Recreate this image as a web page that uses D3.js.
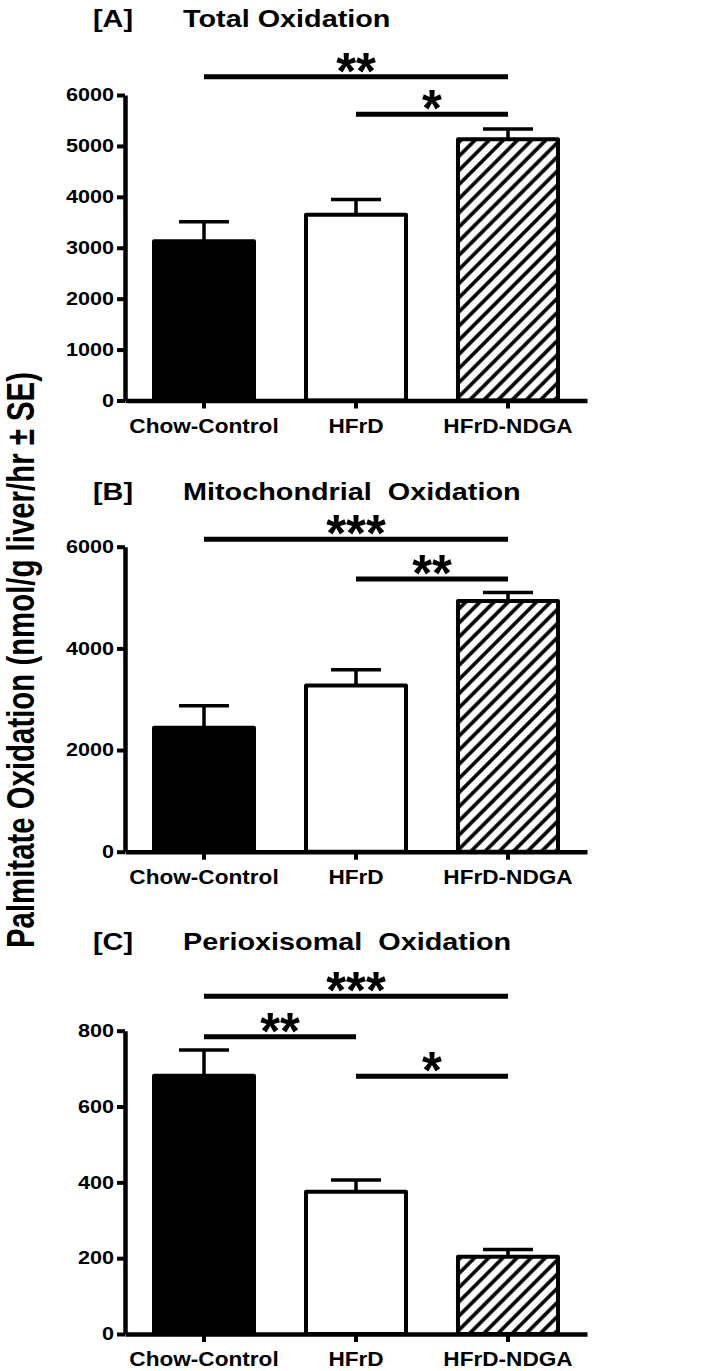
<!DOCTYPE html>
<html>
<head>
<meta charset="utf-8">
<script src="https://cdn.jsdelivr.net/npm/d3@7/dist/d3.min.js"></script>
<style>
  html, body { margin: 0; padding: 0; background: #fff; }
  svg { display: block; }
  text { font-family: "Liberation Sans", Arial, Helvetica, sans-serif; font-weight: bold; fill: #000; white-space: pre; }
</style>
</head>
<body>
<svg id="chart" width="702" height="1371"></svg>
<script>
// ---------------- DATA ----------------
const categories = ["Chow-Control", "HFrD", "HFrD-NDGA"];
const panelLetters = ["[A]", "[B]", "[C]"];
const panelTitles = ["Total Oxidation", "Mitochondrial  Oxidation", "Perioxisomal  Oxidation"];
const yAxisTitle = "Palmitate Oxidation (nmol/g liver/hr \u00B1 SE)";

const totalMean = [3130, 3650, 5130];
const totalSE   = [380, 300, 200];
const mitoMean  = [2440, 3270, 4930];
const mitoSE    = [430, 310, 170];
const peroxMean = [681, 375, 204];
const peroxSE   = [68, 31, 19];

const totalTicks = [0, 1000, 2000, 3000, 4000, 5000, 6000];
const mitoTicks  = [0, 2000, 4000, 6000];
const peroxTicks = [0, 200, 400, 600, 800];

// significance brackets: [fromIndex, toIndex, level(value units), label]
const totalSig = [[0, 2, 6360, "**"], [1, 2, 5620, "*"]];
const mitoSig  = [[0, 2, 6146, "***"], [1, 2, 5364, "**"]];
const peroxSig = [[0, 2, 891, "***"], [0, 1, 784, "**"], [1, 2, 680, "*"]];

// ---------------- LAYOUT ----------------
const svg = d3.select("#chart");
const fills = ["#000", "#fff", "url(#hatch)"];

const defs = svg.append("defs");
const pat = defs.append("pattern")
  .attr("id", "hatch").attr("patternUnits", "userSpaceOnUse")
  .attr("width", 10).attr("height", 10)
  .attr("patternTransform", "rotate(45)");
pat.append("rect").attr("width", 10).attr("height", 10).attr("fill", "#fff");
pat.append("line").attr("x1", 5).attr("y1", -2).attr("x2", 5).attr("y2", 12)
  .attr("stroke", "#000").attr("stroke-width", 3.6);

function stretch(sel, k) {
  sel.each(function () {
    const w = this.getComputedTextLength();
    d3.select(this).attr("textLength", w * k).attr("lengthAdjust", "spacingAndGlyphs");
  });
}

const x = d3.scaleBand().domain(categories)
  .range([125, 587]).paddingInner(0.342).paddingOuter(0.1908);

const panels = [
  { mean: totalMean, se: totalSE, ticks: totalTicks, sig: totalSig, max: 6000, y0: 400.5, y1: 95, titleY: 27 },
  { mean: mitoMean, se: mitoSE, ticks: mitoTicks, sig: mitoSig, max: 6000, y0: 851.7, y1: 546.7, titleY: 500 },
  { mean: peroxMean, se: peroxSE, ticks: peroxTicks, sig: peroxSig, max: 800, y0: 1334, y1: 1030.7, titleY: 950 }
];

panels.forEach((p, pi) => {
  const g = svg.append("g");
  const y = d3.scaleLinear().domain([0, p.max]).range([p.y0, p.y1]);

  // titles
  g.append("text").attr("x", 93).attr("y", p.titleY).attr("font-size", 24)
    .text(panelLetters[pi]).call(stretch, 1.2);
  g.append("text").attr("x", 183).attr("y", p.titleY).attr("font-size", 24)
    .text(panelTitles[pi]).call(stretch, 1.2);

  // error bars
  const cx = d => x(d) + x.bandwidth() / 2;
  g.selectAll(".err").data(categories).join("g").each(function (d, i) {
    const e = d3.select(this);
    const top = y(p.mean[i] + p.se[i]);
    e.append("line").attr("x1", cx(d)).attr("x2", cx(d))
      .attr("y1", y(p.mean[i])).attr("y2", top)
      .attr("stroke", "#000").attr("stroke-width", 3.5);
    e.append("line").attr("x1", cx(d) - 25).attr("x2", cx(d) + 25)
      .attr("y1", top).attr("y2", top)
      .attr("stroke", "#000").attr("stroke-width", 3.5);
  });

  // bars
  g.selectAll(".bar").data(categories).join("rect")
    .attr("x", d => x(d))
    .attr("width", x.bandwidth())
    .attr("y", (d, i) => y(p.mean[i]))
    .attr("height", (d, i) => y(0) - y(p.mean[i]))
    .attr("fill", (d, i) => fills[i])
    .attr("stroke", "#000").attr("stroke-width", 4)
    .attr("stroke-linejoin", "round");

  // y axis
  const ya = g.append("g").attr("transform", "translate(125,0)")
    .call(d3.axisLeft(y).tickValues(p.ticks).tickSize(8).tickSizeOuter(0).tickPadding(3).tickFormat(d3.format("d")));
  ya.select(".domain").attr("stroke-width", 4.5);
  ya.selectAll(".tick line").attr("stroke-width", 4);
  ya.selectAll(".tick text").attr("font-size", 18).attr("font-family", null).call(stretch, 1.2);
  ya.attr("font-family", null);

  // x axis
  const xa = g.append("g").attr("transform", `translate(0,${p.y0})`)
    .call(d3.axisBottom(x).tickSize(8).tickSizeOuter(0).tickPadding(6));
  xa.select(".domain").attr("stroke-width", 4.5);
  xa.selectAll(".tick line").attr("stroke-width", 4);
  xa.selectAll(".tick text").attr("font-size", 20).attr("dy", "0.9em").call(stretch, 1.13);
  xa.attr("font-family", null);

  // significance brackets
  p.sig.forEach(([a, b, lvl, lab]) => {
    const x1 = cx(categories[a]), x2 = cx(categories[b]), ly = y(lvl);
    g.append("line").attr("x1", x1).attr("x2", x2).attr("y1", ly).attr("y2", ly)
      .attr("stroke", "#000").attr("stroke-width", 5);
    g.append("text").attr("x", (x1 + x2) / 2).attr("y", ly + 12)
      .attr("text-anchor", "middle").attr("font-size", 51).text(lab);
  });
});

// shared y-axis title
const yt = svg.append("text")
  .attr("transform", "translate(34,660) rotate(-90)")
  .attr("text-anchor", "middle").attr("font-size", 39)
  .text(yAxisTitle);
yt.attr("textLength", 576).attr("lengthAdjust", "spacingAndGlyphs");
</script>
</body>
</html>
